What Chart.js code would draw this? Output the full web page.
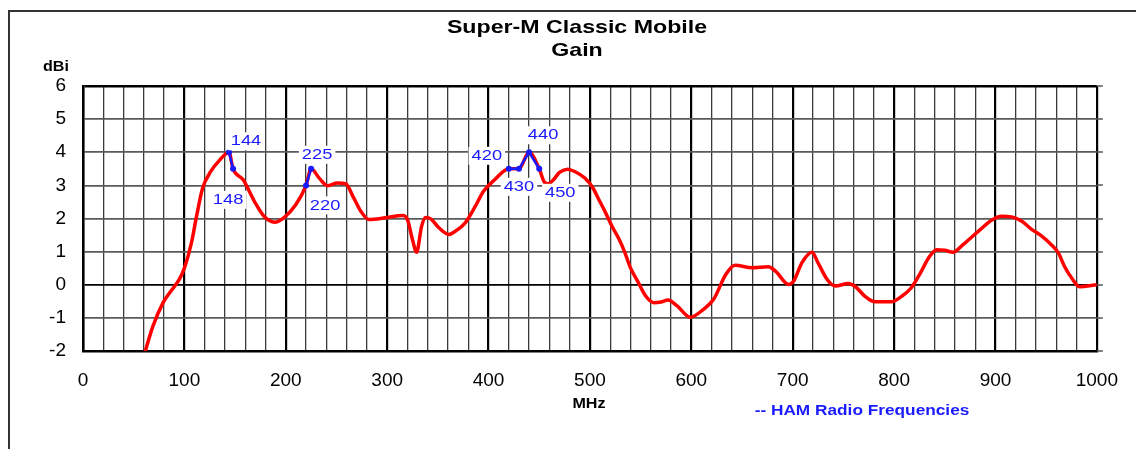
<!DOCTYPE html>
<html>
<head>
<meta charset="utf-8">
<script src="https://cdn.jsdelivr.net/npm/chart.js@4.4.0/dist/chart.umd.min.js"></script>
<style>
  html, body { margin: 0; padding: 0; background: #fff; }
  #wrap { width: 1136px; height: 449px; position: relative; }
</style>
</head>
<body>
<div id="wrap"><canvas id="gain"></canvas></div>
<script>
// measured gain curve (MHz / dBi)
const freqMHz = [60, 69, 79, 86, 95, 100, 107, 112, 118, 126, 135, 144, 148, 158, 169, 179, 189, 198,
  210, 220, 225, 233, 241, 251, 259, 267, 274, 282, 298, 315, 320, 325, 329, 334, 338, 343, 351,
  361, 367, 377, 387, 395, 406, 420, 430, 440, 450, 455, 459, 464, 470, 478, 485, 495, 503, 508,
  515, 522, 529, 534, 540, 547, 555, 563, 570, 577, 586, 599, 612, 622, 634, 643, 660, 676, 683,
  696, 701, 709, 719, 725, 734, 742, 755, 762, 771, 781, 798, 807, 817, 826, 834, 842, 850, 858,
  868, 878, 886, 896, 906, 916, 926, 935, 945, 955, 962, 968, 975, 983, 1000];
const gainDbi = [-2.15, -1.25, -0.54, -0.22, 0.16, 0.5, 1.27, 2.07, 2.92, 3.42, 3.77, 4.0, 3.5, 3.17, 2.52, 2.05, 1.89, 2.02,
  2.42, 3.0, 3.5, 3.22, 2.99, 3.07, 3.05, 2.62, 2.22, 1.97, 2.02, 2.09, 1.97, 1.36, 0.98, 1.77, 2.03, 1.99, 1.72,
  1.52, 1.61, 1.87, 2.37, 2.82, 3.17, 3.5, 3.5, 4.0, 3.5, 3.1, 3.05, 3.17, 3.39, 3.49, 3.42, 3.22, 2.92, 2.62,
  2.2, 1.75, 1.36, 1.01, 0.51, 0.11, -0.34, -0.54, -0.52, -0.46, -0.64, -0.98, -0.74, -0.44, 0.31, 0.59, 0.51, 0.54, 0.41,
  0.01, 0.11, 0.66, 0.98, 0.66, 0.16, -0.04, 0.04, -0.06, -0.34, -0.51, -0.51, -0.36, -0.09, 0.36, 0.81, 1.06, 1.04, 0.98,
  1.21, 1.48, 1.69, 1.95, 2.07, 2.05, 1.92, 1.69, 1.48, 1.21, 0.96, 0.56, 0.21, -0.06, 0.0];

// ham bands (each band drawn as its own little segment)
const hamFreq = [[144, 148], [220, 225], [420, 430, 440, 450]];
const hamGain = [[4.0, 3.5], [3.0, 3.5], [3.5, 3.5, 4.0, 3.5]];

// label offsets from each ham point, in px (same order as flattened hamFreq)
const hamLabelOffset = [[17, -11], [-5, 31], [19, 20], [6, -14], [-22, -13], [0, 18], [14, -17], [21, 24]];

const xMin = 0, xMax = 1000, xStep = 20;
const yMin = -2, yMax = 6, yStep = 1;

const titleLines = ['Super-M Classic Mobile', 'Gain'];
const yTitle = 'dBi';
const xTitle = 'MHz';
const legendText = '-- HAM Radio Frequencies';

const FONT = '"Liberation Sans", Arial, sans-serif';
const BLUE = '#1a1aff';

const gainPoints = freqMHz.map((f, i) => ({ x: f, y: gainDbi[i] }));
const hamPoints = [];
hamFreq.forEach((band, b) => {
  if (b > 0) hamPoints.push({ x: band[0], y: null });
  band.forEach((f, i) => hamPoints.push({ x: f, y: hamGain[b][i] }));
});

function stretchText(ctx, text, x, y, font, color, sx) {
  ctx.save();
  ctx.font = font;
  ctx.fillStyle = color;
  ctx.textAlign = 'center';
  ctx.textBaseline = 'middle';
  ctx.translate(x, y);
  ctx.scale(sx, 1);
  ctx.fillText(text, 0, 0);
  ctx.restore();
}

const decorations = {
  id: 'decorations',
  beforeDraw(chart) {
    const ctx = chart.ctx;
    ctx.save();
    // outer frame (cropped on right / bottom)
    ctx.strokeStyle = '#333';
    ctx.lineWidth = 2;
    ctx.beginPath();
    ctx.moveTo(9, chart.height);
    ctx.lineTo(9, 11);
    ctx.lineTo(chart.width, 11);
    ctx.stroke();
    ctx.restore();

    stretchText(ctx, titleLines[0], 577, 28, 'bold 19px ' + FONT, '#000', 1.22);
    stretchText(ctx, titleLines[1], 577, 51, 'bold 19px ' + FONT, '#000', 1.22);
    stretchText(ctx, yTitle, 56, 67, 'bold 14px ' + FONT, '#000', 1.15);
    stretchText(ctx, xTitle, 589, 404, 'bold 14px ' + FONT, '#000', 1.15);
    stretchText(ctx, legendText, 862, 411, 'bold 15px ' + FONT, BLUE, 1.15);
  },
  afterDraw(chart) {
    // short stubs of horizontal grid past the right edge
    const ctx = chart.ctx;
    const y = chart.scales.y;
    const right = chart.chartArea.right;
    ctx.save();
    ctx.strokeStyle = '#555';
    ctx.lineWidth = 1.5;
    for (let v = yMin; v <= yMax; v += yStep) {
      const py = Math.round(y.getPixelForValue(v));
      ctx.beginPath();
      ctx.moveTo(right, py);
      ctx.lineTo(right + 6, py);
      ctx.stroke();
    }
    ctx.restore();

    // ham labels with white boxes
    const meta = chart.getDatasetMeta(0);
    let k = 0;
    meta.data.forEach((pt, i) => {
      const raw = hamPoints[i];
      if (raw.y === null) return;
      const off = hamLabelOffset[k++];
      const tx = pt.x + off[0], ty = pt.y + off[1];
      const txt = String(raw.x);
      ctx.save();
      ctx.font = '15px ' + FONT;
      const w = ctx.measureText(txt).width * 1.22 + 6;
      ctx.fillStyle = '#fff';
      ctx.fillRect(tx - w / 2, ty - 9, w, 18);
      ctx.restore();
      stretchText(ctx, txt, tx, ty, '15px ' + FONT, BLUE, 1.22);
    });
  }
};

new Chart(document.getElementById('gain'), {
  type: 'line',
  data: {
    datasets: [
      {
        label: 'HAM',
        data: hamPoints,
        borderColor: BLUE,
        backgroundColor: BLUE,
        borderWidth: 2.5,
        pointRadius: 3,
        pointBorderWidth: 0,
        tension: 0,
        spanGaps: false,
      },
      {
        label: 'Gain',
        data: gainPoints,
        borderColor: '#ff0000',
        borderWidth: 3.5,
        pointRadius: 0,
        cubicInterpolationMode: 'monotone',
        fill: false,
      },
    ],
  },
  options: {
    responsive: true,
    maintainAspectRatio: false,
    animation: false,
    layout: { padding: { top: 86, right: 35, left: 0, bottom: 0 } },
    plugins: {
      legend: { display: false },
      tooltip: { enabled: false },
      title: { display: false },
    },
    scales: {
      x: {
        type: 'linear',
        min: xMin,
        max: xMax,
        afterFit: (s) => { s.height = 98; },
        ticks: {
          stepSize: xStep,
          autoSkip: false,
          maxRotation: 0,
          padding: 18,
          color: '#000',
          font: { family: FONT, size: 19 },
          callback: (v) => (v % 100 === 0 ? String(v) : ''),
        },
        grid: {
          drawTicks: false,
          color: (c) => (c.tick && c.tick.value % 100 === 0 ? '#000' : '#3a3a3a'),
          lineWidth: (c) => (c.tick && c.tick.value % 100 === 0 ? 2.2 : 1.3),
        },
        border: { color: '#000', width: 2.5 },
      },
      y: {
        min: yMin,
        max: yMax,
        afterFit: (s) => { s.width = 83; },
        ticks: {
          stepSize: yStep,
          padding: 17,
          color: '#000',
          font: { family: FONT, size: 19 },
        },
        grid: {
          drawTicks: false,
          color: (c) => (c.tick && (c.tick.value === 0 || c.tick.value === yMax) ? '#000' : '#5a5a5a'),
          lineWidth: (c) => (c.tick && c.tick.value === yMax ? 2.5 : 1.7),
        },
        border: { color: '#000', width: 2.5 },
      },
    },
  },
  plugins: [decorations],
});
</script>
</body>
</html>
